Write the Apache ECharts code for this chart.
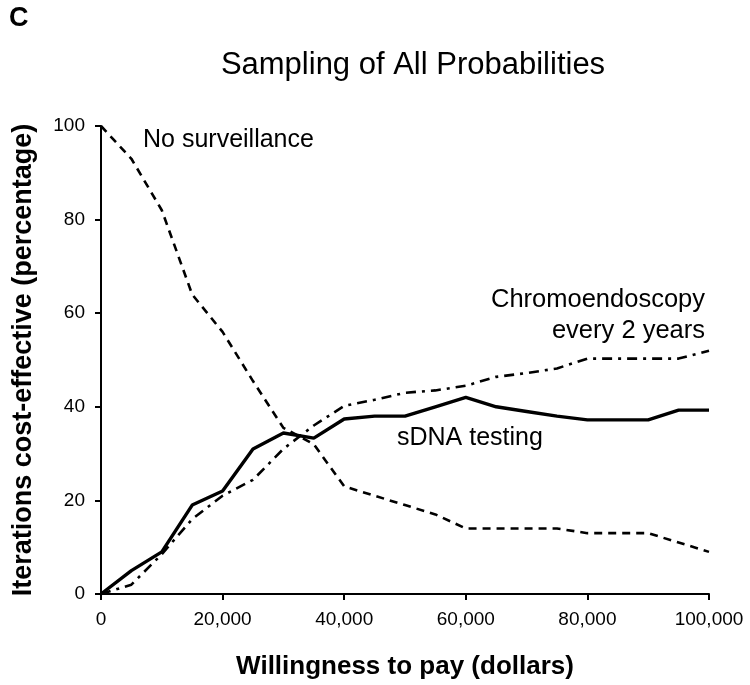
<!DOCTYPE html>
<html>
<head>
<meta charset="utf-8">
<script src="https://cdn.jsdelivr.net/npm/echarts@6/dist/echarts.min.js"></script>
<style>html,body{margin:0;padding:0;background:#fff}#c{width:750px;height:685px}</style>
</head>
<body>
<div id="c"></div>
<script>
var wtp = [0,5000,10000,15000,20000,25000,30000,35000,40000,45000,50000,55000,60000,65000,70000,75000,80000,85000,90000,95000,100000];
var noSurveillance = [100,93,82,64,56,45.5,35.5,32,23,21,19,17,14,14,14,14,13,13,13,11,9];
var sdnaTesting = [0,5,9,19,22,31,34.4,33.3,37.4,38,38,40,42,40,39,38,37.2,37.2,37.2,39.3,39.3];
var chromo = [0,2,8.5,16,21,24.4,31,36,40.2,41.5,43,43.5,44.5,46.4,47.2,48.2,50.3,50.3,50.3,50.3,52];
var yTicks = [0,20,40,60,80,100];
var xTicks = [0,20000,40000,60000,80000,100000];

function pairs(xs, ys){ return xs.map(function(x,i){ return [x, ys[i]]; }); }

var chart = echarts.init(document.getElementById('c'));
var FONT = '"Liberation Sans", Arial, sans-serif';
chart.setOption({
  animation:false,
  backgroundColor:'#fff',
  grid:{left:101,right:41,top:126,bottom:91},
  xAxis:{type:'value',min:xTicks[0],max:xTicks[xTicks.length-1],interval:xTicks[1]-xTicks[0],
    axisLine:{lineStyle:{color:'#000',width:2}},
    axisTick:{length:6,lineStyle:{color:'#000',width:2}},
    splitLine:{show:false},
    axisLabel:{color:'#000',fontSize:19,fontFamily:FONT,margin:16,
      formatter:function(v){ return v.toLocaleString('en-US'); }},
    name:'Willingness to pay (dollars)',nameLocation:'middle',nameGap:60,
    nameTextStyle:{color:'#000',fontSize:26,fontWeight:'bold',fontFamily:FONT}},
  yAxis:{type:'value',min:yTicks[0],max:yTicks[yTicks.length-1],interval:yTicks[1]-yTicks[0],
    axisLine:{lineStyle:{color:'#000',width:2}},
    axisTick:{length:6,lineStyle:{color:'#000',width:2}},
    splitLine:{show:false},
    axisLabel:{color:'#000',fontSize:19,fontFamily:FONT,margin:16},
    name:'Iterations cost-effective (percentage)',nameLocation:'middle',nameGap:64,
    nameTextStyle:{color:'#000',fontSize:27,fontWeight:'bold',fontFamily:FONT}},
  title:{text:'Sampling of All Probabilities',left:408,top:45,textAlign:'center',
    textStyle:{color:'#000',fontSize:31,fontWeight:'normal',fontFamily:FONT}},
  graphic:[
    {type:'text',left:9,top:5,style:{text:'C',fill:'#000',font:'bold 27px '+FONT}},
    {type:'text',left:143,top:128,style:{text:'No surveillance',fill:'#000',font:'25px '+FONT}},
    {type:'text',right:45,top:284,style:{text:'Chromoendoscopy\nevery 2 years',fill:'#000',font:'25.5px '+FONT,textAlign:'right',lineHeight:31}},
    {type:'text',left:397,top:426,style:{text:'sDNA testing',fill:'#000',font:'25px '+FONT}}
  ],
  series:[
    {type:'line',name:'No surveillance',data:pairs(wtp,noSurveillance),showSymbol:false,
      lineStyle:{color:'#000',width:2.6,type:[8,6]}},
    {type:'line',name:'Chromoendoscopy every 2 years',data:pairs(wtp,chromo),showSymbol:false,
      lineStyle:{color:'#000',width:2.6,type:[10,6,3,6]}},
    {type:'line',name:'sDNA testing',data:pairs(wtp,sdnaTesting),showSymbol:false,
      lineStyle:{color:'#000',width:3.4}}
  ]
});
</script>
</body>
</html>
